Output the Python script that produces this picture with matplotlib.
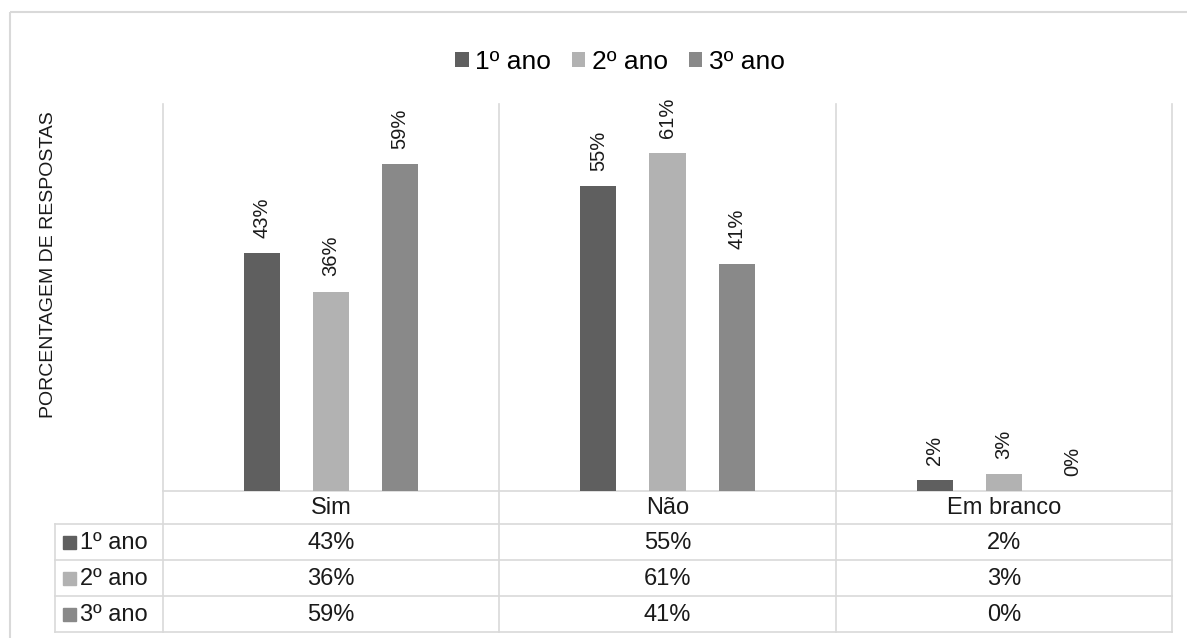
import matplotlib.pyplot as plt
from matplotlib.patches import Rectangle
import numpy as np

plt.rcParams['font.family'] = ['Liberation Sans', 'DejaVu Sans']

categories = ['Sim', 'Não', 'Em branco']
series_names = ['1º ano', '2º ano', '3º ano']
ano1 = [43, 55, 2]
ano2 = [36, 61, 3]
ano3 = [59, 41, 0]
colors = ['#5f5f5f', '#b2b2b2', '#898989']
ylabel = 'PORCENTAGEM DE RESPOSTAS'

W, H = 1187, 638
grid_c = '#d9d9d9'
txt_c = '#1a1a1a'

fig = plt.figure(figsize=(W / 100, H / 100), dpi=100)

# background axes in pixel coordinates for table, frame and grid lines
bg = fig.add_axes([0, 0, 1, 1])
bg.set_xlim(0, W)
bg.set_ylim(H, 0)
bg.axis('off')

left, right, base, top = 163, 1172, 491, 104
row_h = 36
head_bottom = 524
table_bottom = head_bottom + 3 * row_h
lab_left = 55

# outer frame
bg.add_patch(Rectangle((10, 12), W + 20, H + 20, fill=False, edgecolor=grid_c, lw=1.5))

# plot area
ax = fig.add_axes([left / W, 1 - base / H, (right - left) / W, (base - top) / H])
ax.patch.set_alpha(0)
series = [ano1, ano2, ano3]
x = np.arange(len(categories))
width = 36 / 336
offset = 69 / 336
for i, vals in enumerate(series):
    bars = ax.bar(x + (i - 1) * offset, vals, width, color=colors[i], label=series_names[i])
    for b, v in zip(bars, vals):
        ax.annotate('%d%%' % v, (b.get_x() + b.get_width() / 2, v), xytext=(0, 11),
                    textcoords='offset points', rotation=90, ha='center', va='bottom',
                    fontsize=14.5, color=txt_c)
ax.set_xlim(-0.5, len(categories) - 0.5)
ax.set_ylim(0, (base - top) / 5.54)
ax.axis('off')

# vertical grid lines at category boundaries
cw = (right - left) / len(categories)
for k in range(len(categories) + 1):
    xx = left + k * cw
    bg.plot([xx, xx], [top, table_bottom], color=grid_c, lw=1.2)

# horizontal table lines
bg.plot([left, right], [base, base], color=grid_c, lw=1.2)
for r in range(4):
    y = head_bottom + r * row_h
    bg.plot([lab_left, right], [y, y], color=grid_c, lw=1.2)
bg.plot([lab_left, lab_left], [head_bottom, table_bottom], color=grid_c, lw=1.2)

# header row
for k, c in enumerate(categories):
    bg.text(left + (k + 0.5) * cw, (base + head_bottom) / 2 + 1, c, ha='center', va='center',
            fontsize=17, color=txt_c)

# data rows
for r, vals in enumerate(series):
    yc = head_bottom + (r + 0.5) * row_h
    bg.add_patch(Rectangle((63, yc - 6), 13, 13, color=colors[r]))
    bg.text(80, yc + 1, series_names[r], ha='left', va='center', fontsize=17, color=txt_c)
    for k, v in enumerate(vals):
        bg.text(left + (k + 0.5) * cw, yc + 1, '%d%%' % v, ha='center', va='center',
                fontsize=17, color=txt_c)

# y label
bg.text(49, 265, ylabel, rotation=90, ha='center', va='center', fontsize=14, color=txt_c)

# legend
handles, labels = ax.get_legend_handles_labels()
fig.legend(handles, labels, loc='center', bbox_to_anchor=(620 / W, 1 - 62 / H), ncol=3,
           frameon=False, fontsize=19, handlelength=0.5, handleheight=0.5,
           handletextpad=0.25, columnspacing=0.8, borderaxespad=0, borderpad=0)

fig.savefig('out.png', dpi=100)
